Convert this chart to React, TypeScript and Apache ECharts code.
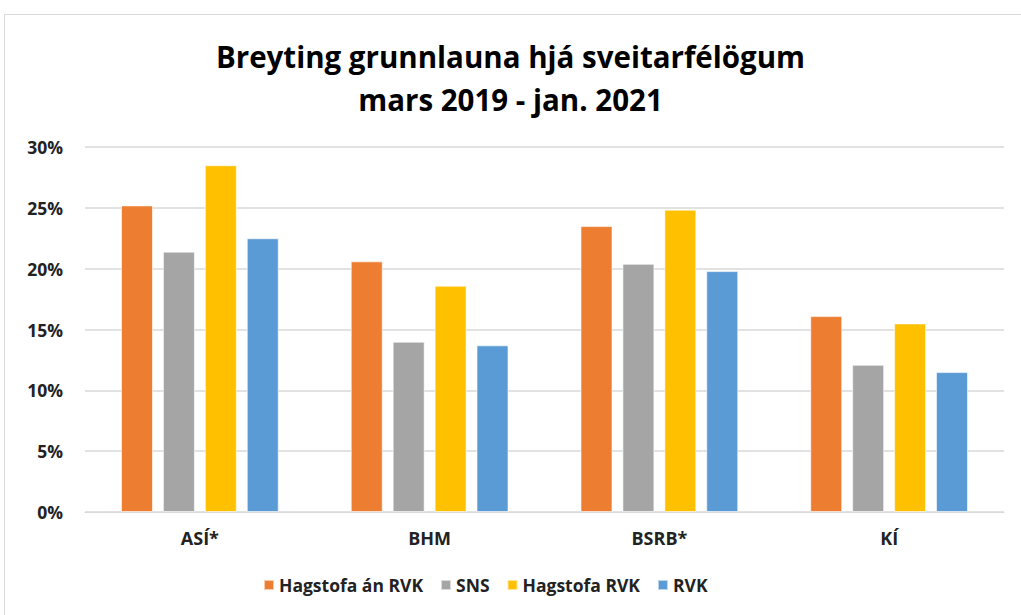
import React, { useEffect, useRef } from "react";
import * as echarts from "echarts";

const categories = ["ASÍ*", "BHM", "BSRB*", "KÍ"];
const seriesNames = ["Hagstofa án RVK", "SNS", "Hagstofa RVK", "RVK"];
const hagstofaAnRvk = [25.2, 20.6, 23.5, 16.1];
const sns = [21.4, 14.0, 20.4, 12.1];
const hagstofaRvk = [28.5, 18.6, 24.85, 15.5];
const rvk = [22.5, 13.7, 19.8, 11.5];
const colors = ["#ED7D31", "#A5A5A5", "#FFC000", "#5B9BD5"];
const titleLines = ["Breyting grunnlauna hjá sveitarfélögum", "mars 2019 - jan. 2021"];

export default function App() {
  const ref = useRef<HTMLDivElement>(null);
  useEffect(() => {
    if (!ref.current) return;
    const chart = echarts.init(ref.current, null, { renderer: "svg" });
    const font = "'Open Sans', 'Noto Sans', sans-serif";
    const data = [hagstofaAnRvk, sns, hagstofaRvk, rvk];
    chart.setOption({
      animation: false,
      backgroundColor: "#ffffff",
      textStyle: { fontFamily: font },
      title: {
        text: titleLines.join("\n"),
        left: "center",
        top: 30,
        textStyle: {
          fontFamily: font,
          fontSize: 29.5,
          fontWeight: "bold",
          color: "#000",
          lineHeight: 43,
        },
      },
      graphic: [
        {
          type: "rect",
          shape: { x: 4.5, y: 14.5, width: 1100, height: 700 },
          style: { fill: "none", stroke: "#d9d9d9", lineWidth: 1 },
          silent: true,
        },
      ],
      legend: {
        bottom: 16,
        left: 258,
        itemWidth: 10,
        itemHeight: 10,
        itemGap: 17,
        icon: "rect",
        textStyle: { fontFamily: font, fontSize: 17.5, fontWeight: "bold", color: "#222" },
        data: seriesNames,
      },
      grid: { left: 85, right: 17, top: 147, bottom: 103, containLabel: false },
      xAxis: {
        type: "category",
        data: categories,
        axisLine: { lineStyle: { color: "#d9d9d9", width: 1 } },
        axisTick: { show: false },
        axisLabel: { fontFamily: font, fontSize: 18, fontWeight: "bold", color: "#222", margin: 17 },
      },
      yAxis: {
        type: "value",
        min: 0,
        max: 30,
        interval: 5,
        axisLine: { show: false },
        axisTick: { show: false },
        splitLine: { lineStyle: { color: "#d9d9d9", width: 1.5 } },
        axisLabel: {
          fontFamily: font,
          fontSize: 17.5,
          fontWeight: "bold",
          color: "#222",
          margin: 22,
          formatter: (v: number) => v + "%",
        },
      },
      series: seriesNames.map((name, i) => ({
        name,
        type: "bar",
        data: data[i],
        barWidth: 32,
        barGap: "31%",
        itemStyle: { color: colors[i], borderColor: "rgba(255,255,255,0.6)", borderWidth: 1 },
      })),
    });
    return () => chart.dispose();
  }, []);
  return (
    <div
      ref={ref}
      style={{ position: "fixed", left: 0, top: 0, width: 1021, height: 615 }}
    />
  );
}
